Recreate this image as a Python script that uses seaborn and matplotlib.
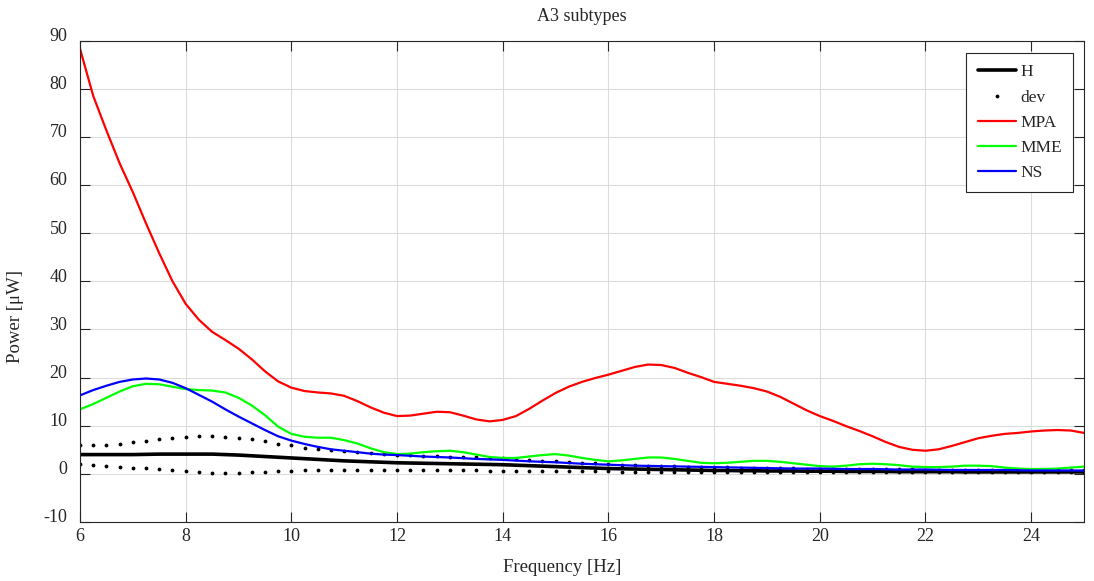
import numpy as np
import pandas as pd
import matplotlib
matplotlib.use("Agg")
import matplotlib.pyplot as plt
import matplotlib.transforms as mtransforms
import seaborn as sns

# Frequency bins (Hz)
freq = np.linspace(6, 25, 77)

# Healthy mean power and its deviation band (uW)
h_mean = [4.0, 4.0, 4.0, 4.0, 4.0, 4.05, 4.1, 4.1, 4.1, 4.1, 4.1, 4.0, 3.9, 3.75, 3.6, 3.45,
          3.3, 3.15, 3.0, 2.85, 2.7, 2.6, 2.5, 2.4, 2.3, 2.25, 2.2, 2.15, 2.1, 2.05, 2.0, 1.95,
          1.9, 1.8, 1.7, 1.6, 1.5, 1.4, 1.3, 1.2, 1.1, 1.05, 1.0, 0.95, 0.9, 0.85, 0.8, 0.75,
          0.7, 0.7, 0.65, 0.65, 0.6, 0.6, 0.6, 0.55, 0.55, 0.55, 0.5, 0.5, 0.5, 0.5, 0.45, 0.45,
          0.45, 0.45, 0.45, 0.4, 0.4, 0.4, 0.4, 0.4, 0.4, 0.4, 0.4, 0.4, 0.4]
dev_upper = [5.9, 5.9, 6.0, 6.2, 6.6, 6.8, 7.2, 7.5, 7.7, 7.8, 7.8, 7.7, 7.5, 7.2, 6.8, 6.3,
             5.9, 5.4, 5.1, 4.9, 4.7, 4.5, 4.3, 4.1, 4.0, 3.9, 3.8, 3.7, 3.6, 3.5, 3.4, 3.3,
             3.2, 3.05, 2.9, 2.75, 2.6, 2.45, 2.3, 2.15, 2.0, 1.9, 1.8, 1.7, 1.6, 1.55, 1.5, 1.45,
             1.4, 1.35, 1.3, 1.25, 1.2, 1.2, 1.15, 1.1, 1.1, 1.05, 1.05, 1.0, 1.0, 1.0, 0.95, 0.95,
             0.9, 0.9, 0.9, 0.85, 0.85, 0.85, 0.8, 0.8, 0.8, 0.8, 0.8, 0.75, 0.75]
dev_lower = [2.1, 1.9, 1.7, 1.5, 1.3, 1.2, 1.0, 0.8, 0.6, 0.3, 0.2, 0.1, 0.1, 0.3, 0.4, 0.5,
             0.6, 0.7, 0.8, 0.8, 0.8, 0.8, 0.8, 0.8, 0.75, 0.75, 0.7, 0.7, 0.7, 0.7, 0.7, 0.65,
             0.65, 0.6, 0.6, 0.6, 0.55, 0.55, 0.5, 0.5, 0.5, 0.45, 0.45, 0.4, 0.4, 0.4, 0.35, 0.35,
             0.35, 0.3, 0.3, 0.3, 0.3, 0.3, 0.3, 0.3, 0.3, 0.3, 0.3, 0.3, 0.3, 0.3, 0.3, 0.3,
             0.3, 0.3, 0.3, 0.3, 0.3, 0.3, 0.3, 0.3, 0.3, 0.3, 0.3, 0.3, 0.3]

# Subtype spectra (uW)
mpa = [88.3, 78.5, 71.3, 64.5, 58.5, 52.0, 45.8, 40.0, 35.3, 32.0, 29.5, 27.8, 26.0, 23.8, 21.3, 19.2,
       17.9, 17.2, 16.9, 16.7, 16.2, 15.1, 13.8, 12.7, 12.0, 12.1, 12.5, 12.9, 12.8, 12.1, 11.3, 10.9,
       11.2, 12.0, 13.5, 15.2, 16.8, 18.1, 19.1, 19.9, 20.6, 21.4, 22.2, 22.7, 22.6, 22.0, 21.0, 20.1,
       19.1, 18.7, 18.3, 17.8, 17.1, 16.0, 14.6, 13.2, 12.0, 11.0, 9.9, 8.9, 7.8, 6.6, 5.6, 5.0,
       4.8, 5.1, 5.8, 6.6, 7.4, 7.9, 8.3, 8.5, 8.8, 9.0, 9.1, 9.0, 8.5]
mme = [13.4, 14.5, 15.8, 17.1, 18.2, 18.7, 18.6, 18.1, 17.6, 17.4, 17.3, 16.9, 15.8, 14.2, 12.2, 9.8,
       8.3, 7.7, 7.5, 7.5, 7.0, 6.3, 5.3, 4.5, 4.1, 4.2, 4.5, 4.7, 4.8, 4.5, 4.0, 3.5,
       3.3, 3.3, 3.6, 3.9, 4.1, 3.8, 3.3, 2.9, 2.6, 2.8, 3.1, 3.4, 3.4, 3.1, 2.7, 2.3,
       2.2, 2.3, 2.5, 2.7, 2.7, 2.5, 2.2, 1.9, 1.6, 1.5, 1.7, 2.0, 2.1, 2.0, 1.8, 1.5,
       1.4, 1.4, 1.5, 1.7, 1.7, 1.6, 1.3, 1.1, 1.0, 1.0, 1.1, 1.3, 1.5]
ns = [16.3, 17.4, 18.3, 19.1, 19.6, 19.8, 19.6, 18.9, 17.8, 16.4, 15.0, 13.4, 11.9, 10.5, 9.1, 7.8,
      6.9, 6.2, 5.6, 5.1, 4.8, 4.5, 4.2, 4.0, 3.9, 3.75, 3.6, 3.5, 3.4, 3.25, 3.1, 3.0,
      2.9, 2.75, 2.6, 2.5, 2.4, 2.25, 2.1, 2.0, 1.9, 1.8, 1.7, 1.65, 1.6, 1.55, 1.5, 1.45,
      1.4, 1.35, 1.3, 1.25, 1.2, 1.15, 1.1, 1.1, 1.1, 1.05, 1.0, 1.0, 1.0, 0.95, 0.9, 0.9,
      0.9, 0.85, 0.8, 0.8, 0.8, 0.8, 0.8, 0.75, 0.7, 0.7, 0.7, 0.7, 0.7]

x_ticks = [6, 8, 10, 12, 14, 16, 18, 20, 22, 24]
y_ticks = [-10, 0, 10, 20, 30, 40, 50, 60, 70, 80, 90]

sns.set_style("white")
plt.rcParams["font.family"] = ["Liberation Serif", "DejaVu Serif"]

fig = plt.figure(figsize=(10.94, 5.81), dpi=100)
ax = fig.add_axes([80 / 1094, 1 - 522 / 581, 1004 / 1094, 481.5 / 581])

df = pd.DataFrame({"f": freq, "H": h_mean, "up": dev_upper, "lo": dev_lower,
                   "MPA": mpa, "MME": mme, "NS": ns})

sns.lineplot(data=df, x="f", y="H", color="black", linewidth=2.6, label="H", ax=ax)
sns.lineplot(data=df, x="f", y="up", color="black", linestyle="", marker=".",
             markersize=5.5, markeredgewidth=0, label="dev", ax=ax)
sns.lineplot(data=df, x="f", y="lo", color="black", linestyle="", marker=".",
             markersize=5.5, markeredgewidth=0, ax=ax)
sns.lineplot(data=df, x="f", y="MPA", color="#ff0000", linewidth=1.6, label="MPA", ax=ax)
sns.lineplot(data=df, x="f", y="MME", color="#00ff00", linewidth=1.6, label="MME", ax=ax)
sns.lineplot(data=df, x="f", y="NS", color="#0000ff", linewidth=1.6, label="NS", ax=ax)

ax.set_xlim(6, 25)
ax.set_ylim(-10, 90)
ax.set_xticks(x_ticks)
ax.set_yticks(y_ticks)
ax.set_xticklabels([str(t) for t in x_ticks])
ax.set_yticklabels([str(t) for t in y_ticks])

ax.grid(True, color="#dcdcdc", linewidth=0.8)
ax.set_axisbelow(True)
for s in ax.spines.values():
    s.set_color("#262626")
    s.set_linewidth(0.8)
    s.set_visible(True)
ax.tick_params(axis="both", which="major", direction="in", length=7.5, width=0.8,
               color="#262626", labelcolor="#262626", labelsize=13,
               top=True, right=True, bottom=True, left=True)
ax.tick_params(axis="y", pad=9)
ax.tick_params(axis="x", pad=4)

# lift the y tick labels slightly above their grid lines
lift = mtransforms.ScaledTranslation(0, 6 / 100, fig.dpi_scale_trans)
for lab in ax.get_yticklabels():
    lab.set_transform(lab.get_transform() + lift)

ax.set_title("A3 subtypes", fontsize=13, color="#262626", pad=14)
ax.set_xlabel("Frequency [Hz]", fontsize=13.5, color="#262626")
ax.set_ylabel("Power [\u03bcW]", fontsize=13.5, color="#262626")
ax.xaxis.set_label_coords(0.480, -0.077)
ax.yaxis.set_label_coords(-0.056, 0.426)

leg = ax.legend(loc="upper right", bbox_to_anchor=(1 - 11 / 1004, 1 - 12.5 / 481.5),
                borderaxespad=0, fontsize=12.5, frameon=True, fancybox=False,
                handlelength=2.2, handletextpad=0.25, labelspacing=0.52,
                borderpad=0.65, edgecolor="#262626", framealpha=1)
leg.get_frame().set_linewidth(0.8)

fig.savefig("out.png", dpi=100)
